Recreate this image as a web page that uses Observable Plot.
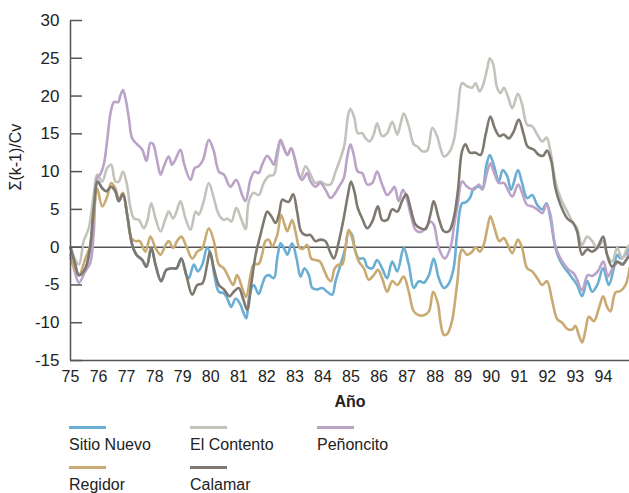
<!DOCTYPE html>
<html>
<head>
<meta charset="utf-8">
<script src="https://cdn.jsdelivr.net/npm/d3@7"></script>
<script src="https://cdn.jsdelivr.net/npm/@observablehq/plot@0.6"></script>
<style>
  html, body { margin: 0; padding: 0; background: #fff; }
  body { width: 629px; height: 493px; overflow: hidden; font-family: "Liberation Sans", Arial, sans-serif; color: #222; }
  #legend { position: relative; height: 78px; }
  .item { position: absolute; }
  .sw { width: 37px; height: 3px; }
  .lab { font-size: 16px; line-height: 18px; margin-top: 7px; white-space: nowrap; }
</style>
</head>
<body>
<div id="chart"></div>
<div id="legend"></div>
<script>
// ---- data: [year, Σ(k-1)/Cv] ----
const seriesNames = ["Sitio Nuevo", "El Contento", "Peñoncito", "Regidor", "Calamar"];
const seriesColors = ["#6aaed3", "#c3c3bb", "#bba3c8", "#c9aa72", "#7f786f"];
const yearTicks = [75,76,77,78,79,80,81,82,83,84,85,86,87,88,89,90,91,92,93,94];
const valueTicks = [-15,-10,-5,0,5,10,15,20,25,30];

const sitioNuevo = [
[75.0,0.0],[75.15,-2.0],[75.3,-3.7],[75.53,-2.8],[75.71,0.3],[75.83,5.2],[75.97,8.7],[76.13,7.8],[76.28,7.4],[76.45,8.0],[76.6,7.4],[76.72,6.1],[76.87,7.0],[77.02,4.3],[77.2,0.3],[77.35,-1.0],[77.56,-1.7],[77.71,-2.6],[77.88,-0.1],[78.03,-2.3],[78.23,-4.5],[78.42,-3.0],[78.62,-2.8],[78.78,-2.8],[78.95,-1.5],[79.13,-3.7],
[79.22,-4.1],[79.4,-2.3],[79.54,-3.2],[79.7,-2.3],[79.87,-0.1],[80.0,-1.0],[80.13,-3.7],[80.29,-5.9],[80.47,-6.1],[80.59,-6.8],[80.73,-7.9],[80.89,-6.8],[81.06,-7.6],[81.15,-8.5],[81.27,-9.4],[81.36,-6.8],[81.53,-5.0],[81.71,-6.2],[81.83,-5.0],[81.95,-3.9],[82.07,-3.7],[82.25,-4.1],[82.37,-1.5],[82.49,0.5],[82.63,-0.3],[82.73,-1.0],[82.9,0.5],[83.06,-1.5],[83.2,-3.9],[83.34,-2.8],[83.5,-3.7],[83.62,-5.4],[83.8,-5.6],[83.97,-5.4],[84.15,-5.9],[84.33,-6.3],[84.45,-4.5],[84.63,-2.3],[84.8,-0.1],[84.92,2.1],[85.04,1.6],[85.16,-0.6],[85.28,-1.5],[85.46,-1.5],[85.58,-2.6],[85.76,-2.8],[85.93,-1.7],[86.11,-2.8],[86.29,-4.1],[86.47,-1.9],[86.65,-3.2],[86.88,-0.1],[87.06,-2.3],[87.24,-5.4],[87.42,-4.5],[87.6,-4.7],[87.78,-3.7],[87.95,-1.5],[88.13,-4.1],[88.31,-5.4],[88.49,-4.8],[88.66,-2.8],[88.78,1.6],[88.96,5.8],[89.08,5.9],[89.24,6.5],[89.38,7.8],[89.56,8.0],[89.68,7.8],[89.83,10.9],[89.95,12.2],[90.09,10.9],[90.27,8.7],[90.41,10.2],[90.57,9.4],[90.71,7.6],[90.95,10.2],[91.1,8.5],[91.28,6.5],[91.46,6.9],[91.64,5.6],[91.82,5.0],[91.97,5.8],[92.11,3.8],[92.29,-0.1],[92.47,-1.9],[92.71,-3.2],[92.89,-4.1],[93.06,-5.0],[93.24,-6.5],[93.42,-4.5],[93.6,-5.9],[93.78,-5.0],[93.99,-2.8],[94.19,-5.0],[94.37,-2.8],[94.49,-1.0],[94.61,-1.5],[94.79,-1.0],[94.93,0.1]
];

const elContento = [
[75.0,0.0],[75.15,-1.5],[75.3,-2.3],[75.47,0.8],[75.65,2.5],[75.83,7.0],[75.95,9.6],[76.13,8.7],[76.31,10.5],[76.45,10.9],[76.6,8.7],[76.72,8.7],[76.87,10.0],[77.0,8.5],[77.14,5.2],[77.26,3.8],[77.44,3.6],[77.61,2.5],[77.73,3.4],[77.88,5.8],[78.03,3.8],[78.21,2.1],[78.39,3.8],[78.5,4.7],[78.66,3.8],[78.78,4.7],[78.92,6.1],[79.1,3.8],[79.28,2.3],[79.46,4.7],[79.57,4.3],[79.75,6.1],[79.93,8.5],[80.11,6.5],[80.29,4.3],[80.47,3.6],[80.59,3.8],[80.74,3.4],[80.91,5.2],[81.08,3.8],[81.24,2.4],[81.36,6.1],[81.53,7.2],[81.71,6.9],[81.89,8.5],[82.07,9.4],[82.25,9.6],[82.37,11.8],[82.49,14.0],[82.6,13.1],[82.73,12.2],[82.87,13.1],[83.02,11.4],[83.2,9.1],[83.38,10.7],[83.56,9.6],[83.73,8.5],[83.91,8.7],[84.09,8.3],[84.27,8.3],[84.45,10.0],[84.63,11.8],[84.77,13.6],[84.89,17.3],[84.98,18.3],[85.12,17.1],[85.24,15.1],[85.4,15.1],[85.52,14.4],[85.67,14.0],[85.81,14.9],[85.93,16.4],[86.11,14.7],[86.29,15.1],[86.47,16.6],[86.65,14.9],[86.76,16.2],[86.88,17.7],[87.06,16.0],[87.24,13.6],[87.38,13.3],[87.54,12.7],[87.72,12.8],[87.9,15.8],[88.07,14.7],[88.19,13.1],[88.31,12.0],[88.49,12.5],[88.66,14.0],[88.81,18.0],[88.96,21.7],[89.14,21.3],[89.32,21.1],[89.44,21.7],[89.59,20.6],[89.73,21.7],[89.86,23.7],[89.95,25.0],[90.07,24.2],[90.21,21.1],[90.33,20.4],[90.45,21.1],[90.59,20.0],[90.75,18.4],[90.95,20.3],[91.1,18.9],[91.28,16.2],[91.46,16.0],[91.64,14.9],[91.82,14.0],[91.97,14.5],[92.11,12.7],[92.29,8.7],[92.47,6.5],[92.71,4.7],[92.89,3.4],[93.06,2.5],[93.24,0.3],[93.42,1.4],[93.6,0.8],[93.78,-0.1],[93.99,0.8],[94.13,-1.0],[94.31,-1.9],[94.49,-0.1],[94.67,-1.5],[94.85,-0.1],[94.93,0.3]
];

const penoncito = [
[75.0,-1.0],[75.15,-3.2],[75.3,-4.7],[75.53,-3.2],[75.71,-2.0],[75.83,2.0],[75.95,9.1],[76.07,9.7],[76.19,11.0],[76.31,14.2],[76.43,17.8],[76.55,19.2],[76.7,19.2],[76.78,20.1],[76.87,20.8],[76.96,19.7],[77.08,17.1],[77.2,14.4],[77.38,13.6],[77.56,12.9],[77.71,11.4],[77.85,13.8],[77.95,13.6],[78.09,11.4],[78.21,9.6],[78.33,10.7],[78.5,12.0],[78.62,10.9],[78.74,11.6],[78.92,12.9],[79.06,10.9],[79.28,8.9],[79.43,10.5],[79.57,10.7],[79.73,11.6],[79.93,14.2],[80.11,12.7],[80.29,10.0],[80.47,9.6],[80.7,8.0],[80.91,8.9],[81.12,6.9],[81.24,6.1],[81.42,9.0],[81.56,10.0],[81.71,9.8],[81.83,10.9],[82.01,12.1],[82.13,11.6],[82.25,10.9],[82.37,12.7],[82.49,14.2],[82.6,13.3],[82.73,12.2],[82.87,13.1],[82.99,11.8],[83.14,9.6],[83.26,8.9],[83.44,9.8],[83.56,8.7],[83.73,8.0],[83.91,8.5],[84.09,7.6],[84.27,6.5],[84.39,6.9],[84.57,8.0],[84.74,9.1],[84.86,11.8],[84.98,13.6],[85.1,12.2],[85.24,10.0],[85.4,9.8],[85.58,8.3],[85.76,8.5],[85.93,10.0],[86.11,8.3],[86.29,6.9],[86.43,7.4],[86.55,8.0],[86.7,6.1],[86.85,7.6],[87.0,6.3],[87.15,4.0],[87.3,2.3],[87.48,2.0],[87.66,2.5],[87.83,3.4],[87.95,3.0],[88.13,-0.1],[88.34,-1.5],[88.55,0.0],[88.68,3.0],[88.8,5.5],[88.96,8.7],[89.14,8.0],[89.38,7.6],[89.56,8.3],[89.68,7.6],[89.86,10.0],[89.97,11.1],[90.09,10.0],[90.27,8.5],[90.45,8.5],[90.57,7.8],[90.75,6.7],[90.96,8.3],[91.1,7.2],[91.28,5.6],[91.46,5.4],[91.64,5.0],[91.82,4.5],[91.97,5.7],[92.11,4.3],[92.29,0.1],[92.5,-1.7],[92.74,-2.9],[92.95,-3.5],[93.06,-4.3],[93.24,-5.7],[93.44,-3.7],[93.6,-3.8],[93.8,-3.2],[94.0,-1.9],[94.16,-3.9],[94.34,-2.7],[94.55,-2.0],[94.7,-2.3],[94.85,-1.4],[94.93,-0.8]
];

const regidor = [
[75.0,-1.5],[75.15,-2.8],[75.3,-3.7],[75.53,-1.5],[75.71,0.3],[75.83,4.3],[75.95,7.8],[76.13,5.4],[76.31,6.7],[76.45,8.5],[76.6,7.8],[76.72,6.3],[76.87,7.2],[77.02,4.3],[77.17,1.2],[77.32,0.8],[77.47,0.8],[77.67,-0.6],[77.85,1.4],[78.03,-0.1],[78.21,-1.0],[78.39,0.3],[78.5,0.8],[78.66,-0.1],[78.8,0.8],[78.95,1.4],[79.13,0.1],[79.34,-1.5],[79.52,-0.6],[79.7,-0.1],[79.93,2.5],[80.11,0.8],[80.29,-2.3],[80.47,-2.8],[80.65,-4.1],[80.8,-5.0],[80.94,-3.7],[81.12,-5.4],[81.26,-6.6],[81.42,-3.7],[81.53,-2.3],[81.71,-2.2],[81.83,-1.0],[81.95,0.8],[82.07,1.0],[82.19,0.1],[82.37,1.6],[82.51,4.3],[82.63,3.0],[82.73,2.1],[82.9,3.6],[83.02,2.1],[83.17,-0.1],[83.29,-0.2],[83.44,0.3],[83.58,-1.5],[83.73,-1.7],[83.89,-1.9],[84.06,-3.2],[84.17,-4.1],[84.29,-4.5],[84.42,-2.8],[84.57,-2.3],[84.69,-2.3],[84.8,-0.1],[84.92,2.3],[85.04,1.2],[85.16,-0.6],[85.28,-1.9],[85.46,-2.8],[85.63,-4.3],[85.81,-3.7],[85.96,-3.0],[86.11,-4.1],[86.29,-5.9],[86.47,-4.5],[86.65,-5.0],[86.88,-3.9],[87.06,-5.9],[87.24,-8.5],[87.42,-9.0],[87.6,-9.0],[87.78,-8.5],[87.93,-5.9],[88.1,-7.5],[88.19,-9.9],[88.31,-11.6],[88.43,-11.5],[88.6,-9.8],[88.78,-5.0],[88.96,-0.3],[89.14,-1.0],[89.32,-0.6],[89.44,0.0],[89.59,-0.6],[89.73,0.3],[89.86,2.5],[89.97,4.1],[90.12,2.5],[90.29,0.8],[90.45,1.2],[90.59,0.3],[90.75,-0.8],[90.95,1.0],[91.1,-0.1],[91.28,-2.8],[91.46,-3.2],[91.64,-4.1],[91.82,-5.0],[91.99,-4.5],[92.17,-7.0],[92.35,-9.5],[92.53,-10.0],[92.71,-10.8],[92.89,-10.9],[93.0,-10.4],[93.12,-11.6],[93.24,-12.6],[93.36,-11.0],[93.48,-9.2],[93.66,-9.8],[93.83,-8.2],[93.99,-6.5],[94.13,-7.9],[94.25,-8.5],[94.43,-6.0],[94.61,-5.8],[94.79,-5.0],[94.93,-2.8]
];

const calamar = [
[75.0,0.0],[75.15,-2.0],[75.3,-3.7],[75.53,-2.8],[75.71,0.3],[75.83,5.2],[75.97,8.7],[76.13,7.8],[76.28,7.4],[76.45,8.0],[76.6,7.4],[76.72,6.1],[76.87,7.0],[77.02,4.3],[77.2,0.3],[77.35,-1.0],[77.56,-1.7],[77.71,-2.6],[77.88,-0.1],[78.03,-2.3],[78.23,-4.5],[78.42,-3.0],[78.62,-2.8],[78.78,-2.8],[78.95,-1.5],[79.13,-3.7],[79.34,-6.3],[79.52,-5.0],[79.7,-4.8],[79.87,-2.3],[79.97,-0.6],[80.11,-2.8],[80.29,-5.0],[80.47,-5.6],[80.67,-6.5],[80.82,-5.9],[81.0,-5.4],[81.15,-6.8],[81.3,-8.3],[81.44,-5.0],[81.6,-1.0],[81.77,1.6],[81.92,3.8],[82.01,4.7],[82.16,4.1],[82.31,3.2],[82.43,4.3],[82.55,6.3],[82.66,6.1],[82.78,6.0],[82.94,7.0],[83.08,4.7],[83.22,2.1],[83.38,1.6],[83.56,1.6],[83.73,0.8],[83.91,1.0],[84.09,0.8],[84.25,-0.6],[84.39,-1.5],[84.57,0.8],[84.74,3.8],[84.89,6.9],[85.0,8.7],[85.12,7.4],[85.24,5.2],[85.4,3.8],[85.58,2.5],[85.76,3.4],[85.96,5.4],[86.11,3.6],[86.29,3.6],[86.47,5.0],[86.65,4.7],[86.82,6.1],[86.97,7.0],[87.12,5.2],[87.3,3.0],[87.48,2.5],[87.66,2.4],[87.83,4.3],[87.95,6.1],[88.13,3.8],[88.31,2.1],[88.49,2.1],[88.66,3.8],[88.81,7.4],[88.96,12.7],[89.08,13.6],[89.24,12.5],[89.44,12.5],[89.62,12.2],[89.8,14.9],[89.97,17.3],[90.12,15.8],[90.29,14.7],[90.45,14.9],[90.63,14.4],[90.8,15.3],[90.98,16.9],[91.16,14.9],[91.3,13.3],[91.52,12.9],[91.7,12.2],[91.85,12.1],[91.99,12.8],[92.14,11.4],[92.29,7.8],[92.47,5.6],[92.71,3.8],[92.92,3.2],[93.06,2.1],[93.24,-1.0],[93.42,-0.3],[93.6,-0.6],[93.78,-0.1],[93.99,1.4],[94.13,-1.0],[94.31,-2.6],[94.49,-1.9],[94.67,-2.3],[94.85,-1.5],[94.93,-1.2]
];

const seriesData = [sitioNuevo, elContento, penoncito, regidor, calamar];
const rows = seriesNames.flatMap((name, i) => seriesData[i].map(([t, v]) => ({name, t, v})));

const axisColor = "#555";
const chart = Plot.plot({
  width: 629,
  height: 415,
  marginLeft: 70,
  marginRight: 0,
  marginTop: 20,
  marginBottom: 55,
  style: {fontFamily: "'Liberation Sans', Arial, sans-serif", color: "#222", background: "#fff"},
  x: {domain: [75, 94.93], ticks: yearTicks},
  y: {domain: [-15, 30], ticks: valueTicks},
  color: {domain: seriesNames, range: seriesColors},
  marks: [
    Plot.ruleY([0], {stroke: axisColor, strokeWidth: 1.5}),
    ...seriesNames.map(name => Plot.line(rows.filter(d => d.name === name), {
      x: "t", y: "v", stroke: "name", strokeWidth: 2.6, curve: "catmull-rom"
    })),
    Plot.ruleX([75], {stroke: axisColor, strokeWidth: 1.5}),
    Plot.ruleY([-15], {stroke: axisColor, strokeWidth: 1.5}),
    Plot.axisY({ticks: valueTicks, tickSize: -12, tickPadding: 23, fontSize: 17, label: null, stroke: axisColor, strokeWidth: 1.5, tickFormat: d => String(d)}),
    Plot.axisX({ticks: yearTicks, tickSize: 0, tickPadding: 10, fontSize: 16, label: null, tickFormat: d => String(d)}),
    Plot.text(["Año"], {frameAnchor: "bottom", dy: 46, fontWeight: "bold", fontSize: 16, fill: "#222"}),
    Plot.text(["Σ(k-1)/Cv"], {frameAnchor: "left", dx: -55, rotate: -90, fontSize: 16, fill: "#222"})
  ]
});
document.getElementById("chart").appendChild(chart);

// legend
const legendPos = [[69, 11], [190, 11], [317, 11], [69, 51], [190, 51]];
const legend = document.getElementById("legend");
seriesNames.forEach((name, i) => {
  const it = document.createElement("div");
  it.className = "item";
  it.style.left = legendPos[i][0] + "px";
  it.style.top = legendPos[i][1] + "px";
  const sw = document.createElement("div");
  sw.className = "sw";
  sw.style.background = seriesColors[i];
  const lab = document.createElement("div");
  lab.className = "lab";
  lab.textContent = name;
  it.appendChild(sw);
  it.appendChild(lab);
  legend.appendChild(it);
});
</script>
</body>
</html>
